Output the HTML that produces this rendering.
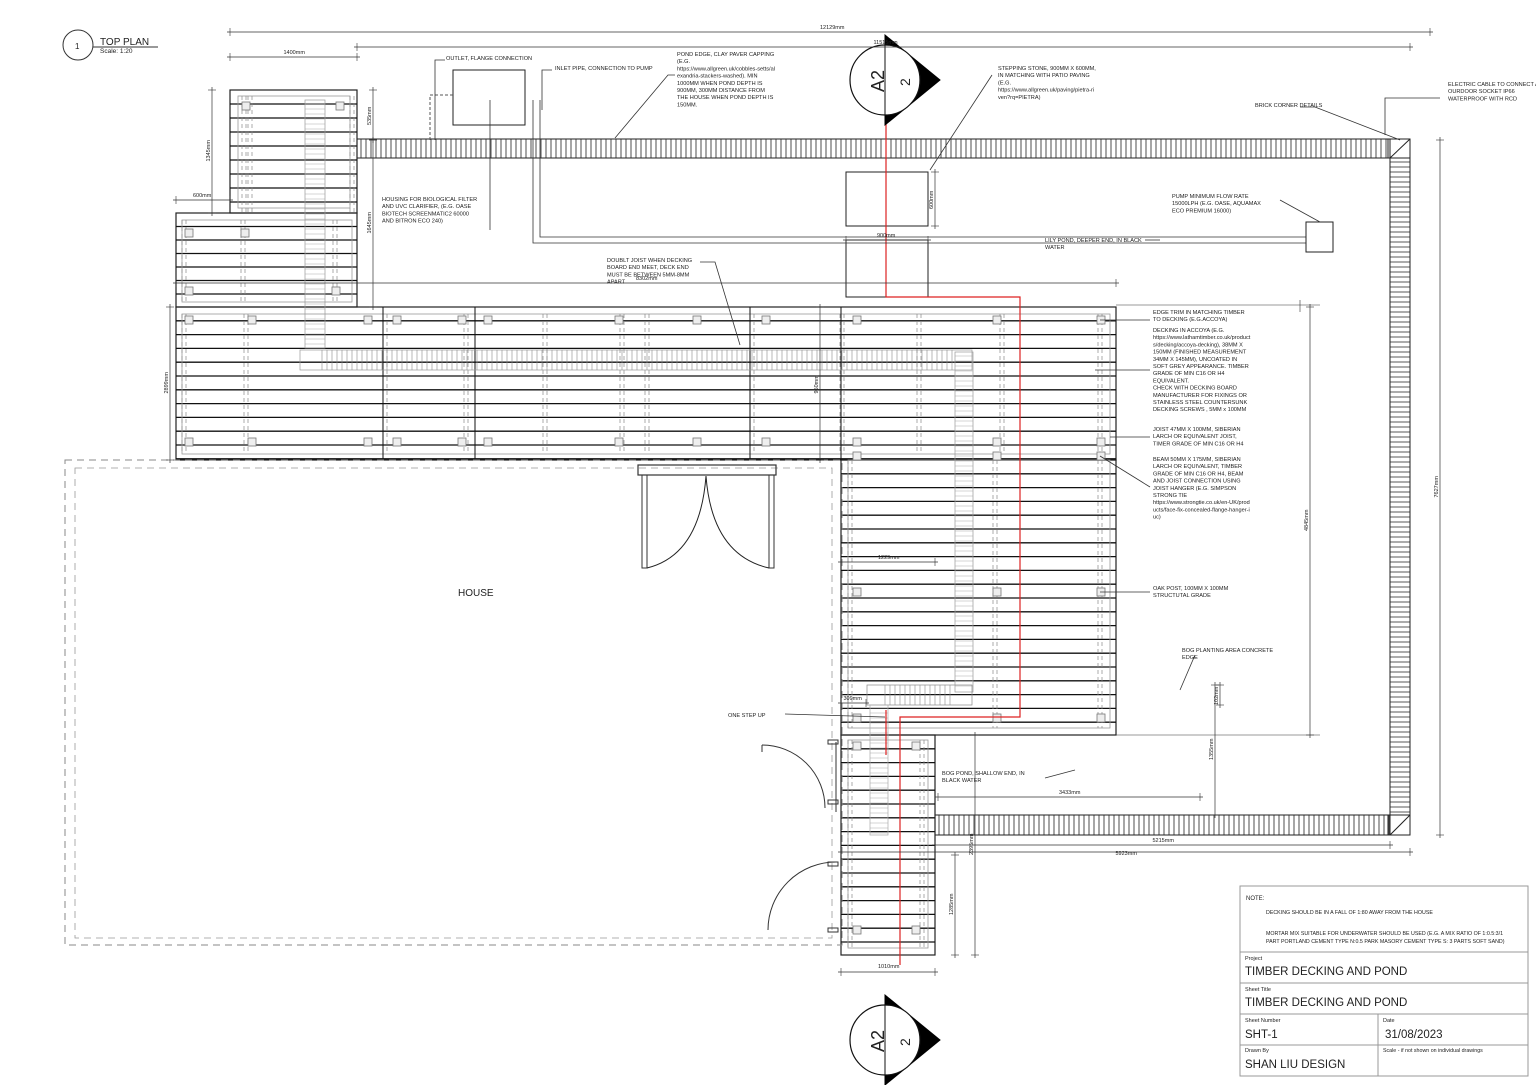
<!DOCTYPE html>
<html><head><meta charset="utf-8"><style>
html,body{margin:0;padding:0;background:#fff}
svg{display:block}
text{font-family:"Liberation Sans",sans-serif;fill:#222}
</style></head><body>
<svg id="d" width="1536" height="1085" viewBox="0 0 1536 1085" xmlns="http://www.w3.org/2000/svg">
<g id="g" fill="none" stroke="#222" stroke-width="1"></g>
<g id="t"></g>
</svg>
<script>
const g=document.getElementById('g'),T=document.getElementById('t');
let h='';
function L(x1,y1,x2,y2,c,w,da){h+=`<line x1="${x1}" y1="${y1}" x2="${x2}" y2="${y2}" stroke="${c||'#222'}" stroke-width="${w||1}" ${da?`stroke-dasharray="${da}"`:''}/>`}
function R(x,y,w,hh,c,sw,da,f){h+=`<rect x="${x}" y="${y}" width="${w}" height="${hh}" stroke="${c||'#222'}" stroke-width="${sw||1}" fill="${f||'none'}" ${da?`stroke-dasharray="${da}"`:''}/>`}
function P(d,c,w,f){h+=`<path d="${d}" stroke="${c||'#222'}" stroke-width="${w||1}" fill="${f||'none'}"/>`}
let t='';
function X(x,y,s,sz,extra){t+=`<text x="${x}" y="${y}" font-size="${sz||6}" ${extra||''}>${s}</text>`}
function M(x,y,lines,sz,lh){lines.forEach((s,i)=>X(x,y+i*(lh||7.2),s,sz||5.6))}
function deck(x1,y1,x2,y2,step){R(x1,y1,x2-x1,y2-y1,'#222',1.2);for(let y=y1+step;y<y2;y+=step)L(x1,y,x2,y,'#111',1.3);}
deck(230,90,357,213,14);
deck(176,213,357,307,13.5);
deck(176,307,1116,460,13.8);
deck(841,460,1116,735,13.8);
deck(841,735,935,955,13.8);
R(238,96,112,112,'#999',0.8);R(182,220,170,82,'#999',0.8);R(182,314,928,140,'#999',0.8);R(848,460,262,268,'#999',0.8);R(848,740,80,208,'#999',0.8);
function dj(x,y1,y2){L(x,y1,x,y2,'#888',0.7,'4,3');L(x+4,y1,x+4,y2,'#888',0.7,'4,3')}
[182,241,333].forEach(x=>dj(x,220,302));
[242,248,350].forEach(x=>dj(x,96,213));
[182,244,383,464,543,620,645,750,840,917,1000,1098].forEach(x=>dj(x,314,454));
[848,993,1098].forEach(x=>dj(x,460,728));
[848,920].forEach(x=>dj(x,740,948));
function po(x,y){R(x,y,8,8,'#777',0.8,null,'#eee')}
[[185,316],[248,316],[364,316],[393,316],[458,316],[484,316],[615,316],[693,316],[762,316],[853,316],[993,316],[1097,316],[185,438],[248,438],[364,438],[393,438],[458,438],[484,438],[615,438],[693,438],[762,438],[853,438],[993,438],[1097,438],[853,452],[993,452],[1097,452],[853,588],[993,588],[1097,588],[853,714],[993,714],[1097,714],[853,742],[912,742],[853,926],[912,926],[185,229],[241,229],[332,287],[185,287],[242,102],[336,102]].forEach(p=>po(p[0],p[1]));
[383,475,750,841].forEach(x=>L(x,307,x,460,'#111',1));
R(305,100,20,248,'#999',0.7);for(let y=104;y<348;y+=5)L(305,y,325,y,'#aaa',0.6);
R(300,350,672,20,'#999',0.7);for(let x=322;x<955;x+=5)L(x,350,x,370,'#888',0.6);
R(955,352,18,340,'#999',0.7);for(let y=356;y<690;y+=5)L(955,y,973,y,'#aaa',0.6);
R(867,685,105,20,'#888',0.7);for(let x=885;x<955;x+=5)L(x,685,x,705,'#888',0.6);
R(870,705,18,130,'#aaa',0.7);for(let y=708;y<835;y+=5)L(870,y,888,y,'#aaa',0.6);
function hb(x1,x2,y1,y2){R(x1,y1,x2-x1,y2-y1,'#222',1);for(let x=x1+4;x<x2;x+=5)L(x,y1,x,y2,'#222',0.8)}
function vb(x1,x2,y1,y2){R(x1,y1,x2-x1,y2-y1,'#222',1);for(let y=y1+4;y<y2;y+=5)L(x1,y,x2,y,'#222',0.8)}
hb(357,1390,139,158);vb(1390,1410,158,815);hb(935,1390,815,835);
R(1388,139,22,19,'#222',1);L(1390,158,1410,139);R(1388,815,22,20,'#222',1);L(1390,835,1410,815);
R(65,460,777,485,'#888',1,'7,5');R(75,468,757,470,'#999',0.8,'7,5');
R(638,465,138,10,'#333',1.2);R(642,475,5,93,'#333',1);R(769,475,5,93,'#333',1);
P('M706,476 Q700,555 647,568');P('M706,476 Q712,555 769,568');
// side doors
P('M762,745 A63,63 0 0 1 825,808','#333',1);L(762,745,762,752,'#333',1);R(828,740,10,4,'#333');R(828,800,10,4,'#333');
P('M836,862 A68,68 0 0 0 768,930','#333',1);R(828,862,10,4,'#333');R(828,928,10,4,'#333');L(836,742,836,812,'#333');
R(846,172,82,54);R(846,240,82,57);
P('M886,42 L886,297 L1020,297 L1020,717 L900,717 L900,965','#d22',1.2);L(886,710,886,755,'#d22',1.2);
R(453,70,72,55);P('M540,100 L540,237 L1306,237','#333',0.8);P('M533,100 L533,243 L1306,243','#333',0.8);
h+='<path d="M430,140 L430,95 L453,95" stroke="#555" stroke-dasharray="3,2" fill="none"/>';
R(1306,222,27,30);
function sec(cx,cy){P(`M${cx},${cy-45} L${cx+55},${cy} L${cx},${cy+45}Z`,'#000',1,'#000');h+=`<circle cx="${cx}" cy="${cy}" r="35" stroke="#111" stroke-width="1.2" fill="#fff"/>`;L(cx,cy-35,cx,cy+35,'#111',1);}
sec(885,80);sec(885,1040);
h+='<circle cx="78" cy="45" r="15" stroke="#333" fill="none"/>';L(93,47,158,47,'#333',1);
function dh(x1,x2,y,lbl,ly){L(x1-3,y,x2+3,y,'#333',0.7);L(x1,y-4,x1,y+4,'#333',0.6);L(x2,y-4,x2,y+4,'#333',0.6);X((x1+x2)/2-10,ly||y-3,lbl,5.5)}
function dv(x,y1,y2,lbl){L(x,y1-3,x,y2+3,'#333',0.7);L(x-4,y1,x+4,y1,'#333',0.6);L(x-4,y2,x+4,y2,'#333',0.6);t+=`<text font-size="5.5" transform="translate(${x-2},${(y1+y2)/2+10}) rotate(-90)">${lbl}</text>`}
dh(230,1430,32,'12129mm');dh(357,1410,47,'11515mm');dh(230,357,57,'1400mm');dh(176,230,200,'600mm');
dv(212,90,213,'1345mm');dv(373,90,140,'535mm');dv(373,140,307,'1645mm');dv(170,307,460,'2899mm');
dh(176,1116,283,'8302mm');dv(820,307,460,'950mm');dv(1310,307,735,'4845mm');dv(1440,140,835,'7627mm');
dh(846,928,240,'900mm',237);dv(935,172,226,'600mm');dh(841,935,562,'1229mm');
dh(841,866,703,'309mm',700);dv(1215,685,815,'1355mm');dv(1220,685,705,'102mm');
dh(938,1200,797,'3433mm',794);dh(935,1390,845,'5215mm',842);dh(841,1410,852,'5923mm',855);
dv(975,735,955,'2395mm');dv(955,855,955,'1285mm');dh(841,935,972,'1010mm',968);
L(1300,300,1300,312,'#333',.6);L(1116,305,1320,305,'#333',.6);L(1116,735,1320,735,'#333',.6);
P('M615,138 L668,75 L675,75','#333',.8);P('M490,230 L490,100','#333',.8);P('M435,140 L435,60 L445,60','#333',.8);
P('M542,110 L542,70 L552,70','#333',.8);P('M930,170 L992,75','#333',.8);P('M1400,140 L1315,107 L1300,107','#333',.8);
P('M1320,222 L1280,200','#333',.8);P('M1385,135 L1385,98 L1440,98','#333',.8);
P('M740,345 L715,262 L700,262','#333',.8);P('M1100,320 L1150,320','#333',.8);P('M1095,370 L1150,370','#333',.8);
P('M1110,437 L1150,437','#333',.8);P('M1100,456 L1150,487','#333',.8);P('M1100,592 L1150,592','#333',.8);
P('M1180,690 L1195,655','#333',.8);P('M785,714 L885,717','#333',.8);P('M1045,778 L1075,770','#333',.8);
P('M1145,240 L1160,240','#333',.8);
R(1240,886,288,190,'#999',1);[952,983,1014,1045].forEach(y=>L(1240,y,1528,y,'#999',1));L(1378,1014,1378,1076,'#999',1);
g.innerHTML=h;
X(100,45,'TOP PLAN',10);X(100,53,'Scale: 1:20',6.5);X(75,49,'1',8);
X(860,92,'A2',18,'transform="rotate(-90 872 80)"');X(896,96,'2',14,'transform="rotate(-90 898 84)"');
X(860,1052,'A2',18,'transform="rotate(-90 872 1040)"');X(896,1056,'2',14,'transform="rotate(-90 898 1044)"');
X(458,596,'HOUSE',10);
M(446,60,['OUTLET,  FLANGE CONNECTION']);M(555,70,['INLET PIPE, CONNECTION TO PUMP']);
M(677,56,['POND EDGE, CLAY PAVER CAPPING','(E.G.','https://www.allgreen.uk/cobbles-setts/al','exandria-stackers-washed). MIN','1000MM WHEN POND DEPTH IS','900MM, 300MM DISTANCE FROM','THE HOUSE WHEN POND DEPTH IS','150MM.']);
M(998,70,['STEPPING STONE, 900MM X 600MM,','IN MATCHING WITH PATIO PAVING','(E.G.','https://www.allgreen.uk/paving/pietra-ri','ven?rq=PIETRA)']);
M(1448,86,['ELECTRIC CABLE TO CONNECT AN','OURDOOR SOCKET IP66','WATERPROOF WITH RCD']);
M(1255,107,['BRICK CORNER DETAILS']);
M(1172,198,['PUMP MINIMUM FLOW RATE','15000LPH (E.G. OASE, AQUAMAX','ECO PREMIUM 16000)']);
M(1045,242,['LILY POND, DEEPER END, IN BLACK','WATER']);
M(382,201,['HOUSING FOR BIOLOGICAL FILTER','AND UVC CLARIFIER, (E.G. OASE','BIOTECH SCREENMATIC2 60000','AND BITRON ECO 240)']);
M(607,262,['DOUBLT JOIST WHEN DECKING','BOARD END MEET, DECK END','MUST BE BETWEEN 5MM-8MM','APART']);
M(1153,314,['EDGE TRIM IN MATCHING TIMBER','TO DECKING (E.G.ACCOYA)']);
M(1153,332,['DECKING IN ACCOYA (E.G.','https://www.lathamtimber.co.uk/product','s/decking/accoya-decking), 38MM X','150MM (FINISHED MEASUREMENT','34MM X 145MM), UNCOATED IN','SOFT GREY APPEARANCE. TIMBER','GRADE OF MIN C16 OR H4','EQUIVALENT.','CHECK WITH DECKING BOARD','MANUFACTURER FOR FIXINGS OR','STAINLESS STEEL COUNTERSUNK','DECKING SCREWS , 5MM x 100MM']);
M(1153,431,['JOIST 47MM X 100MM, SIBERIAN','LARCH OR EQUIVALENT JOIST,','TIMER GRADE OF MIN C16 OR H4']);
M(1153,461,['BEAM 50MM X 175MM, SIBERIAN','LARCH OR EQUIVALENT, TIMBER','GRADE OF MIN C16 OR H4, BEAM','AND JOIST CONNECTION USING','JOIST HANGER (E.G. SIMPSON','STRONG TIE','https://www.strongtie.co.uk/en-UK/prod','ucts/face-fix-concealed-flange-hanger-i','uc)']);
M(1153,590,['OAK POST, 100MM X 100MM','STRUCTUTAL GRADE']);
M(1182,652,['BOG PLANTING AREA CONCRETE','EDGE']);
M(728,717,['ONE STEP UP']);M(942,775,['BOG POND, SHALLOW END, IN','BLACK WATER']);
X(1246,900,'NOTE:',6);X(1266,914,'DECKING SHOULD BE IN A FALL OF 1:80 AWAY FROM THE HOUSE',5.3);
X(1266,935,'MORTAR MIX SUITABLE FOR UNDERWATER SHOULD BE USED (E.G. A MIX RATIO OF 1:0.5:3/1',5.3);
X(1266,943,'PART PORTLAND CEMENT TYPE N:0.5 PARK MASORY CEMENT TYPE S: 3 PARTS SOFT SAND)',5.3);
X(1245,960,'Project',5.5);X(1245,975,'TIMBER DECKING AND POND',11.5);
X(1245,991,'Sheet Title',5.5);X(1245,1006,'TIMBER DECKING AND POND',11.5);
X(1245,1022,'Sheet Number',5.5);X(1245,1038,'SHT-1',11.5);X(1383,1022,'Date',5.5);X(1385,1038,'31/08/2023',11.5);
X(1245,1052,'Drawn By',5.5);X(1245,1068,'SHAN LIU DESIGN',11.5);X(1383,1052,'Scale - if not shown on individual drawings',5.3);
T.innerHTML=t;
</script>
</body></html>
